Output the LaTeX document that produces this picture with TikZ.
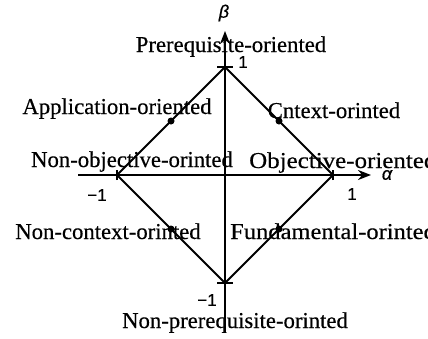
\documentclass[tikz,border=0pt]{standalone}
\usepackage{fontspec}
\setmainfont{Liberation Serif}[FakeBold=0.4]
\newfontfamily\numfont{Liberation Sans}[FakeBold=0.6]
\usetikzlibrary{arrows.meta,calc}
\begin{document}
\begin{tikzpicture}[x=1pt,y=-1pt,
  lbl/.style={inner sep=0pt,font=\fontsize{22.7}{24}\selectfont},
  num/.style={inner sep=0pt,font=\numfont\fontsize{17}{19}\selectfont},
  greek/.style={inner sep=0pt,font=\numfont\itshape\fontsize{18}{20}\selectfont},
  axis/.style={line width=2.4pt,-{Stealth[length=13pt,width=10pt]}},
  edge/.style={line width=2pt},
  tick/.style={line width=1.2pt},
  dot/.style={circle,fill=black,inner sep=0pt,minimum size=7pt}]
\useasboundingbox (0,0) rectangle (428,338);
% vertices
\coordinate (T) at (225,67);
\coordinate (B) at (225,283);
\coordinate (L) at (117,175);
\coordinate (R) at (333,175);
\coordinate (xs) at (78,175);
\coordinate (xe) at (371,175);
\coordinate (ys) at (225,333);
\coordinate (ye) at (225,31);
% labels (drawn first so axes go over them)
\node[lbl,anchor=base] (pre) at (231,52) {Prerequisite-oriented};
\node[lbl,anchor=base] (app) at (117,114) {Application-oriented};
\node[lbl,anchor=base] (cnt) at (334,118) {Cntext-orinted};
\node[lbl,anchor=base] (nob) at (132,167) {Non-objective-orinted};
\node[lbl,anchor=base west] (obj) at (249,168) {\scalebox{1.1}[1]{Objective-oriented}};
\node[lbl,anchor=base] (nct) at (108,239) {Non-context-orinted};
\node[lbl,anchor=base west] (fun) at (230,239) {\scalebox{1.08}[1]{Fundamental-orinted}};
\node[lbl,anchor=base] (npr) at (235,328) {Non-prerequisite-orinted};
% axes
\draw[axis] (xs) -- (xe);
\draw[axis] (ys) -- (ye);
% diamond
\draw[edge] (T) -- (R) -- (B) -- (L) -- cycle;
% ticks
\draw[tick] ([xshift=-8pt]T) -- ([xshift=8pt]T);
\draw[tick] ([xshift=-8pt]B) -- ([xshift=8pt]B);
\draw[tick] ([yshift=-5pt]L) -- ([yshift=5pt]L);
\draw[tick] ([yshift=-5pt]R) -- ([yshift=5pt]R);
% dots
\node[dot] (d1) at ($(T)!0.5!(L)$) {};
\node[dot] (d2) at ($(T)!0.5!(R)$) {};
\node[dot] (d3) at ($(B)!0.5!(L)$) {};
\node[dot] (d4) at ($(B)!0.5!(R)$) {};
% numbers
\node[num] (n1) at (243,62) {1};
\node[num] (n2) at (207,300) {−1};
\node[num] (n3) at (97,195) {−1};
\node[num] (n4) at (352,194) {1};
\node[greek] (al) at (387,175) {α};
\node[greek] (be) at (224,13) {β};
\end{tikzpicture}
\end{document}
